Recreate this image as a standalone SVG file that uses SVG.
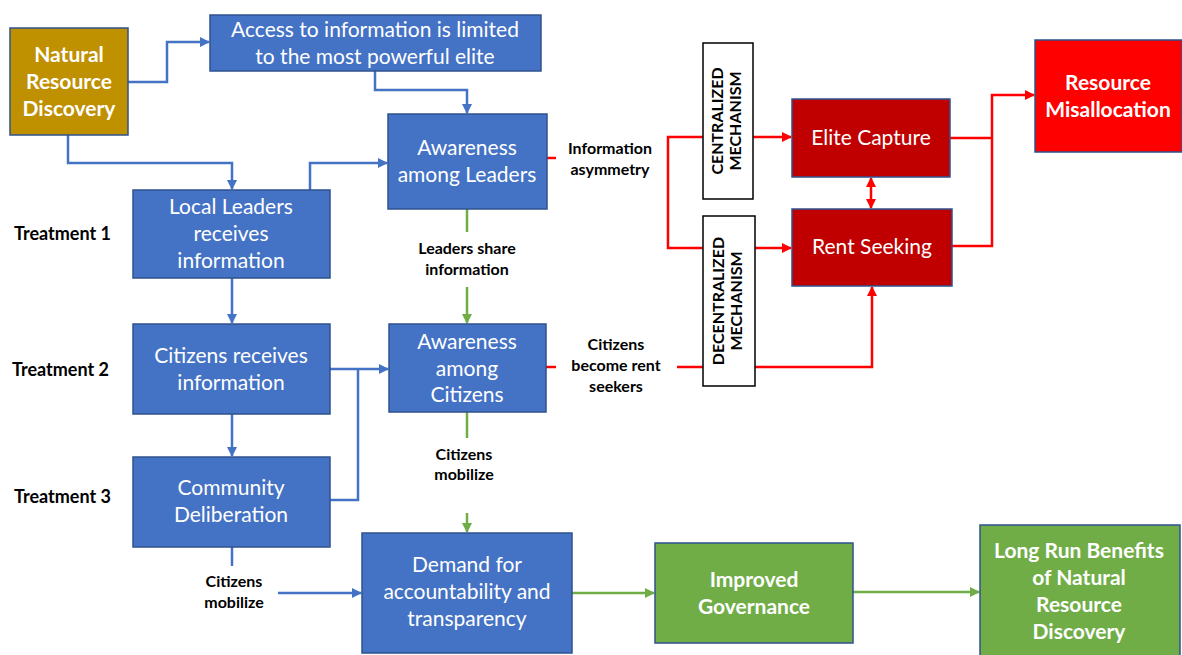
<svg xmlns="http://www.w3.org/2000/svg" width="1182" height="655" viewBox="0 0 1182 655">
<style>
.box{stroke:#2F528F;stroke-width:1.5}
.blue{fill:#4472C4}
.gold{fill:#BF9000}
.dred{fill:#C00000}
.bred{fill:#FF0000}
.green{fill:#70AD47}
.mech{fill:#fff;stroke:#000;stroke-width:1.5}
.t{font-family:Lato,"Liberation Sans",sans-serif;font-size:21px;fill:#fff;text-anchor:middle}
.tb{font-family:Lato,"Liberation Sans",sans-serif;font-size:21px;font-weight:bold;fill:#fff;text-anchor:middle}
.lbl{font-family:Lato,"Liberation Sans",sans-serif;font-size:16px;font-weight:bold;fill:#000;text-anchor:middle}
.tr{font-family:Lato,"Liberation Sans",sans-serif;font-size:18px;font-weight:bold;fill:#000}
.mt{font-family:Lato,"Liberation Sans",sans-serif;font-size:16px;font-weight:bold;fill:#000;text-anchor:middle}
.cb{fill:none;stroke:#4472C4;stroke-width:2.5}
.cg{fill:none;stroke:#70AD47;stroke-width:2.5}
.cr{fill:none;stroke:#FF0000;stroke-width:2.5}
</style>
<defs>
<marker id="ab" viewBox="0 0 10 10" refX="9" refY="5" markerWidth="4" markerHeight="4" orient="auto-start-reverse" markerUnits="strokeWidth"><path d="M0,0 L10,5 L0,10 z" fill="#4472C4"/></marker>
<marker id="ag" viewBox="0 0 10 10" refX="9" refY="5" markerWidth="4" markerHeight="4" orient="auto-start-reverse" markerUnits="strokeWidth"><path d="M0,0 L10,5 L0,10 z" fill="#70AD47"/></marker>
<marker id="ar" viewBox="0 0 10 10" refX="9" refY="5" markerWidth="4" markerHeight="4" orient="auto-start-reverse" markerUnits="strokeWidth"><path d="M0,0 L10,5 L0,10 z" fill="#FF0000"/></marker>
</defs>
<rect width="1182" height="655" fill="#fff"/>

<g id="connectors">
<path class="cb" d="M128,82 H167 V42 H209" marker-end="url(#ab)"/>
<path class="cb" d="M68,135 V163 H232 V189" marker-end="url(#ab)"/>
<path class="cb" d="M375,71 V90 H467 V113" marker-end="url(#ab)"/>
<path class="cb" d="M310,190 V163 H387" marker-end="url(#ab)"/>
<path class="cb" d="M232,278 V323" marker-end="url(#ab)"/>
<path class="cb" d="M330,369 H388" marker-end="url(#ab)"/>
<path class="cb" d="M330,500 H358 V369"/>
<path class="cb" d="M232,414 V456" marker-end="url(#ab)"/>
<path class="cb" d="M232,547 V566"/>
<path class="cb" d="M278,593 H361" marker-end="url(#ab)"/>
<path class="cg" d="M467,209 V232"/>
<path class="cg" d="M467,287 V323" marker-end="url(#ag)"/>
<path class="cg" d="M467,412 V438"/>
<path class="cg" d="M467,513 V532" marker-end="url(#ag)"/>
<path class="cg" d="M572,593 H654" marker-end="url(#ag)"/>
<path class="cg" d="M853,592 H979" marker-end="url(#ag)"/>
<path class="cr" d="M547,158 H556"/>
<path class="cr" d="M703,137 H668 V248 H703"/>
<path class="cr" d="M753,137 H791" marker-end="url(#ar)"/>
<path class="cr" d="M755,248 H791" marker-end="url(#ar)"/>
<path class="cr" d="M546,367 H556"/>
<path class="cr" d="M677,367 H703"/>
<path class="cr" d="M755,367 H872 V287" marker-end="url(#ar)"/>
<path class="cr" d="M871,178 V208" marker-start="url(#ar)" marker-end="url(#ar)"/>
<path class="cr" d="M950,138 H992 M952,246 H992 V95 H1034" marker-end="url(#ar)"/>
</g>

<g id="nrd"><rect class="box gold" x="10" y="28" width="118" height="107"/>
<text class="tb"><tspan x="69" y="62">Natural</tspan><tspan x="69" y="89">Resource</tspan><tspan x="69" y="116">Discovery</tspan></text></g>

<g id="access"><rect class="box blue" x="210" y="15" width="331" height="56"/>
<text class="t"><tspan x="375" y="37">Access to information is limited</tspan><tspan x="375" y="64">to the most powerful elite</tspan></text></g>

<g id="awareLeaders"><rect class="box blue" x="388" y="114" width="159" height="95"/>
<text class="t"><tspan x="467" y="155">Awareness</tspan><tspan x="467" y="182">among Leaders</tspan></text></g>

<g id="localLeaders"><rect class="box blue" x="133" y="190" width="197" height="88"/>
<text class="t"><tspan x="231" y="214">Local Leaders</tspan><tspan x="231" y="241">receives</tspan><tspan x="231" y="268">information</tspan></text></g>

<g id="citizensInfo"><rect class="box blue" x="133" y="324" width="197" height="90"/>
<text class="t"><tspan x="231" y="363">Citizens receives</tspan><tspan x="231" y="390">information</tspan></text></g>

<g id="awareCitizens"><rect class="box blue" x="389" y="324" width="157" height="88"/>
<text class="t"><tspan x="467" y="349">Awareness</tspan><tspan x="467" y="376">among</tspan><tspan x="467" y="402">Citizens</tspan></text></g>

<g id="community"><rect class="box blue" x="133" y="457" width="197" height="90"/>
<text class="t"><tspan x="231" y="495">Community</tspan><tspan x="231" y="522">Deliberation</tspan></text></g>

<g id="demand"><rect class="box blue" x="362" y="533" width="210" height="120"/>
<text class="t"><tspan x="467" y="572">Demand for</tspan><tspan x="467" y="599">accountability and</tspan><tspan x="467" y="626">transparency</tspan></text></g>

<g id="improved"><rect class="box green" x="655" y="543" width="198" height="100"/>
<text class="tb"><tspan x="754" y="587">Improved</tspan><tspan x="754" y="614">Governance</tspan></text></g>

<g id="longrun"><rect class="box green" x="980" y="525" width="200" height="132"/>
<text class="tb"><tspan x="1079" y="558">Long Run Benefits</tspan><tspan x="1079" y="585">of Natural</tspan><tspan x="1079" y="612">Resource</tspan><tspan x="1079" y="639">Discovery</tspan></text></g>

<g id="central"><rect class="mech" x="703" y="43" width="50" height="156"/>
<text class="mt" transform="translate(728,121) rotate(-90)"><tspan x="0" y="-5">CENTRALIZED</tspan><tspan x="0" y="13">MECHANISM</tspan></text></g>

<g id="decentral"><rect class="mech" x="703" y="216" width="52" height="170"/>
<text class="mt" transform="translate(729,301) rotate(-90)"><tspan x="0" y="-5">DECENTRALIZED</tspan><tspan x="0" y="13">MECHANISM</tspan></text></g>

<g id="elite"><rect class="box dred" x="792" y="99" width="158" height="78"/>
<text class="t" x="871" y="145">Elite Capture</text></g>

<g id="rent"><rect class="box dred" x="792" y="209" width="160" height="77"/>
<text class="t" x="872" y="254">Rent Seeking</text></g>

<g id="misalloc"><rect class="box bred" x="1035" y="40" width="147" height="112"/>
<text class="tb"><tspan x="1108" y="90">Resource</tspan><tspan x="1108" y="117">Misallocation</tspan></text></g>

<g id="labels">
<text class="tr" x="14" y="240">Treatment 1</text>
<text class="tr" x="12" y="376">Treatment 2</text>
<text class="tr" x="14" y="503">Treatment 3</text>
<text class="lbl"><tspan x="610" y="154">Information</tspan><tspan x="610" y="175">asymmetry</tspan></text>
<text class="lbl"><tspan x="616" y="350">Citizens</tspan><tspan x="616" y="371">become rent</tspan><tspan x="616" y="392">seekers</tspan></text>
<text class="lbl"><tspan x="467" y="254">Leaders share</tspan><tspan x="467" y="275">information</tspan></text>
<text class="lbl"><tspan x="464" y="460">Citizens</tspan><tspan x="464" y="480">mobilize</tspan></text>
<text class="lbl"><tspan x="234" y="587">Citizens</tspan><tspan x="234" y="608">mobilize</tspan></text>
</g>
</svg>
